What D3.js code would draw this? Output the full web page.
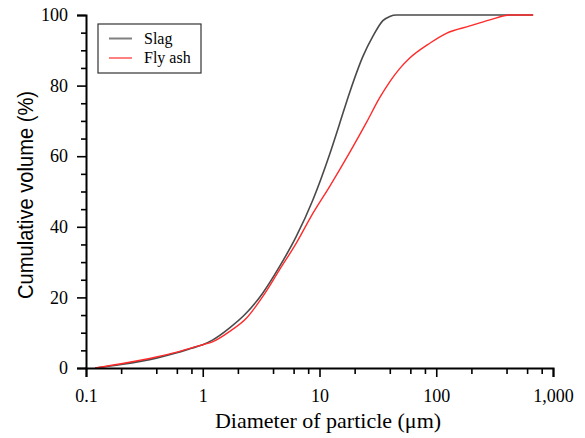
<!DOCTYPE html>
<html>
<head>
<meta charset="utf-8">
<script src="https://cdn.jsdelivr.net/npm/d3@7"></script>
<style>
  body { margin: 0; background: #fff; }
  text { font-family: "Liberation Serif", "DejaVu Serif", serif; }
</style>
</head>
<body>
<div id="chart"></div>
<script>
// particle size distribution
var slagSize = [0.12, 0.2, 0.4, 0.6, 0.8, 1.0, 1.21, 1.69, 2.35, 3.26, 4.54, 6.31, 8.77, 12.2, 14.8, 18.1, 23.5, 28.7, 34.9, 40, 45.7, 100, 300, 676]
var slagVolume = [0, 1.0, 2.8, 4.3, 5.6, 6.6, 7.9, 11.3, 15.5, 21.2, 28.7, 37.2, 47.6, 60.5, 69.0, 78.0, 88.2, 94.0, 98.4, 99.6, 100, 100, 100, 100]

var flySize = [0.12, 0.2, 0.4, 0.6, 0.8, 1.0, 1.21, 1.69, 2.35, 3.26, 4.54, 6.31, 8.77, 12.2, 18.1, 25.2, 32.7, 39.8, 48.6, 59.3, 88, 122, 194, 288, 427, 676]
var flyVolume = [0, 1.2, 3.1, 4.5, 5.7, 6.6, 7.4, 10.3, 14.0, 20.2, 27.8, 35.3, 43.8, 51.4, 61.0, 69.5, 76.5, 81.0, 84.8, 87.8, 92.0, 94.8, 96.9, 98.6, 100, 100]

var seriesNames = ['Slag', 'Fly ash']
var seriesColors = ['#4a4a4a', '#ff2a2a']
var legendColors = ['#808080', '#ff8080']

var xMajor = [0.1, 1, 10, 100, 1000]
var xMajorLabels = ['0.1', '1', '10', '100', '1,000']
var xMinor = [0.2, 0.4, 0.6, 0.8, 2, 4, 6, 8, 20, 40, 60, 80, 200, 400, 600, 800]
var yMajor = [0, 20, 40, 60, 80, 100]
var yMinor = [5, 10, 15, 25, 30, 35, 45, 50, 55, 65, 70, 75, 85, 90, 95]

var width = 585, height = 438

var svg = d3.select('#chart').append('svg')
    .attr('width', width)
    .attr('height', height)

var x = d3.scaleLog().domain([0.1, 1000]).range([86, 553])
var y = d3.scaleLinear().domain([0, 100]).range([368, 15])

// curves
var line = d3.line()
    .x(function (d) { return x(d[0]) })
    .y(function (d) { return y(d[1]) })
    .curve(d3.curveMonotoneX)

var slag = slagSize.map(function (s, i) { return [s, slagVolume[i]] })
var fly = flySize.map(function (s, i) { return [s, flyVolume[i]] })

svg.append('path').datum(slag)
    .attr('d', line)
    .attr('fill', 'none')
    .attr('stroke', seriesColors[0])
    .attr('stroke-width', 1.6)

svg.append('path').datum(fly)
    .attr('d', line)
    .attr('fill', 'none')
    .attr('stroke', seriesColors[1])
    .attr('stroke-width', 1.4)

// x axis
svg.append('g')
    .attr('transform', 'translate(0,' + y(0) + ')')
    .call(d3.axisBottom(x).tickValues(xMajor).tickSize(9).tickPadding(12)
        .tickFormat(function (d, i) { return xMajorLabels[i] }))
svg.append('g')
    .attr('transform', 'translate(0,' + y(0) + ')')
    .call(d3.axisBottom(x).tickValues(xMinor).tickSize(6).tickFormat(''))
    .select('.domain').remove()

// y axis
svg.append('g')
    .attr('transform', 'translate(' + x(0.1) + ',0)')
    .call(d3.axisLeft(y).tickValues(yMajor).tickSize(9).tickPadding(9))
svg.append('g')
    .attr('transform', 'translate(' + x(0.1) + ',0)')
    .call(d3.axisLeft(y).tickValues(yMinor).tickSize(5).tickFormat(''))
    .select('.domain').remove()

svg.selectAll('.domain').attr('stroke', '#000').attr('stroke-width', 2)
svg.selectAll('.tick line').attr('stroke', '#000').attr('stroke-width', 1.6)
svg.selectAll('.tick text')
    .style('font-family', '"Liberation Serif", serif')
    .style('font-size', '18px')
    .attr('fill', '#000')

// axis titles
svg.append('text')
    .attr('x', 328)
    .attr('y', 428)
    .attr('text-anchor', 'middle')
    .style('font-size', '22px')
    .text('Diameter of particle (μm)')

svg.append('text')
    .attr('transform', 'translate(33,195) rotate(-90)')
    .attr('text-anchor', 'middle')
    .attr('textLength', 208)
    .attr('lengthAdjust', 'spacingAndGlyphs')
    .style('font-family', '"Liberation Sans", "DejaVu Sans", sans-serif')
    .style('font-size', '22px')
    .text('Cumulative volume (%)')

// legend
var legend = svg.append('g')
legend.append('rect')
    .attr('x', 98).attr('y', 24)
    .attr('width', 103).attr('height', 49)
    .attr('fill', 'none')
    .attr('stroke', '#333')
    .attr('stroke-width', 1.2)

seriesNames.forEach(function (name, i) {
    var ly = 38.5 + i * 19.5
    legend.append('line')
        .attr('x1', 109).attr('x2', 132)
        .attr('y1', ly).attr('y2', ly)
        .attr('stroke', legendColors[i])
        .attr('stroke-width', 2)
    legend.append('text')
        .attr('x', 144).attr('y', ly + 5)
        .style('font-size', '16px')
        .text(name)
})
</script>
</body>
</html>
